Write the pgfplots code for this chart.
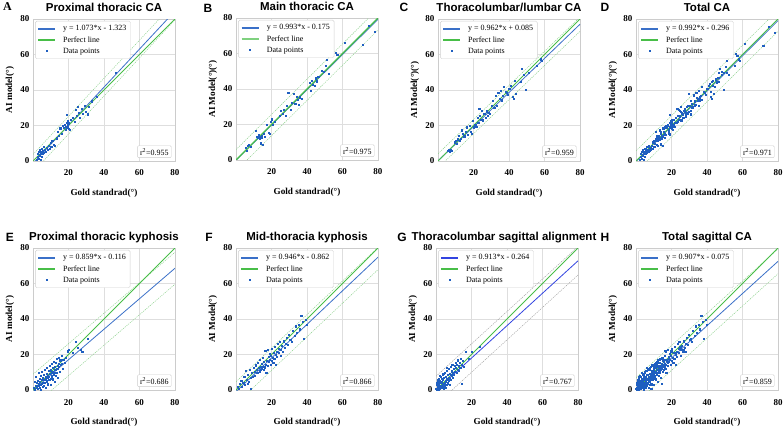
\documentclass[border=0pt]{standalone}
\usepackage{fontspec}
\setmainfont{Liberation Serif}
\setsansfont{Liberation Sans}
\usepackage{pgfplots}
\usepackage{pgfplotstable}
\pgfplotsset{compat=1.18}

\definecolor{regblue}{HTML}{3A70C8}
\definecolor{perfgreen}{HTML}{48BE48}
\definecolor{ptblue}{HTML}{1F5FC0}
\definecolor{dashgreen}{HTML}{8ACF8A}
\definecolor{dashgrey}{HTML}{A0A0A0}
\definecolor{gblue}{HTML}{3344E0}

\pgfplotstableread{
x y
2.1 0.5
2.6 2.2
2.9 3.8
3.2 1.1
3.4 4.9
3.7 2.7
3.9 6.2
4.1 3.4
4.3 0.4
4.5 5.1
4.8 4.2
5.0 2.3
5.2 6.6
5.5 3.9
5.8 5.4
6.1 4.6
6.4 7.7
6.8 6.0
7.3 5.2
8.1 7.1
8.6 6.3
9.1 8.4
9.5 7.0
9.9 10.2
10.4 8.1
11.0 11.4
11.6 9.0
12.3 8.2
13.4 12.7
14.2 16.4
14.8 14.1
15.5 18.3
16.1 15.3
16.8 19.9
17.6 18.6
18.2 20.4
18.6 17.7
18.9 19.4
19.1 21.2
19.3 18.9
19.5 20.1
19.7 22.4
19.9 19.3
20.1 20.8
20.3 18.2
20.5 21.5
19.4 26.1
20.9 17.4
21.4 23.3
22.7 24.2
23.5 22.1
24.2 28.6
24.8 25.3
25.5 30.5
25.9 27.2
26.7 24.0
27.4 29.4
28.3 26.4
29.1 31.0
30.0 27.7
31.1 26.2
31.8 30.3
33.0 33.5
36.3 36.2
47.0 49.5
}\tA

\pgfplotstableread{
x y
5.6 6.9
6.3 5.2
6.9 7.8
7.4 8.6
8.2 7.2
11.3 16.1
12.0 13.2
12.6 12.4
13.1 13.8
13.5 11.9
13.8 12.9
14.2 9.3
14.5 13.5
14.8 12.6
15.1 8.6
15.6 14.4
16.4 13.1
17.7 19.8
18.5 15.2
19.3 14.8
19.6 21.2
20.4 22.8
21.0 19.5
22.1 21.3
24.8 24.9
25.5 27.6
26.3 26.1
27.2 28.4
28.0 24.6
28.9 30.2
29.6 37.6
30.8 28.3
31.5 32.1
32.7 37.4
33.5 31.4
34.2 35.6
34.9 33.8
35.6 31.0
36.3 35.2
37.1 34.4
41.5 43.3
42.2 39.1
43.0 44.6
43.6 42.5
44.3 41.8
44.9 45.9
45.7 44.2
46.5 46.8
48.6 50.3
49.4 49.8
50.5 53.1
51.2 56.4
52.3 48.4
56.5 60.2
57.2 59.1
61.4 65.9
71.8 64.8
74.9 75.3
78.2 72.1
}\tB

\pgfplotstableread{
x y
5.8 5.4
6.4 6.3
6.9 4.9
7.3 6.1
8.1 5.8
9.5 10.4
10.2 11.2
10.8 9.6
11.4 12.1
12.0 14.3
12.6 11.3
13.1 12.5
13.6 17.2
14.2 15.1
14.9 13.8
15.6 16.4
16.3 18.9
17.0 14.6
17.8 19.8
18.5 16.2
19.2 15.3
19.8 22.6
20.5 18.9
21.1 20.4
21.7 19.2
22.3 24.0
22.8 21.5
23.4 29.4
23.9 25.6
24.5 23.1
25.0 28.3
25.6 22.8
26.2 26.7
26.8 24.2
27.5 27.9
28.1 25.6
28.7 27.1
29.4 26.3
30.3 30.8
31.0 33.9
31.8 29.7
32.6 36.8
33.3 31.2
34.1 38.4
34.8 35.0
35.5 39.6
36.1 34.1
36.8 36.5
37.4 41.9
38.2 39.1
38.9 38.2
39.6 37.0
40.3 40.4
41.2 42.3
42.1 36.2
42.6 35.1
43.4 45.2
44.0 37.8
46.8 44.6
47.5 51.8
48.2 48.7
49.6 40.1
51.3 49.5
55.7 53.3
57.8 57.2
58.5 56.4
}\tC

\pgfplotstableread{
x y
0.8 1.2
1.1 4.6
1.3 0.3
1.6 2.5
1.9 7.1
2.2 1.4
2.4 3.8
2.7 0.6
2.9 5.2
3.1 2.1
3.3 9.4
3.5 3.3
3.7 1.0
3.9 6.0
4.1 4.4
4.3 0.2
4.5 7.8
4.7 2.9
4.9 5.5
5.1 3.6
5.3 10.3
5.5 1.7
5.7 6.7
5.9 4.1
6.1 8.5
6.3 2.4
6.5 5.8
6.7 11.2
6.9 3.9
7.1 7.3
7.3 6.0
7.5 0.9
7.7 9.1
7.9 4.8
8.1 12.4
8.3 6.6
8.5 8.0
8.7 3.1
8.9 10.5
9.1 7.2
9.3 5.4
9.5 13.6
9.7 8.9
9.9 6.3
10.1 11.0
10.3 2.8
10.5 9.7
10.7 7.6
10.9 14.8
11.1 10.2
11.3 5.9
11.5 12.3
11.7 8.4
11.9 16.0
12.1 9.8
12.3 4.6
12.5 13.2
12.7 11.1
12.9 7.9
13.1 15.4
13.3 12.0
13.5 9.5
13.7 17.3
13.9 13.7
14.1 6.8
14.3 11.6
14.5 14.9
14.7 18.2
14.9 12.8
15.2 10.1
15.5 16.6
15.8 13.9
16.1 19.0
16.4 14.6
16.8 11.9
17.2 16.9
17.8 15.2
18.5 17.8
19.6 21.7
20.4 22.3
22.6 20.8
24.3 27.1
25.1 23.6
26.8 22.4
27.9 21.6
31.2 28.9
}\tE

\pgfplotstableread{
x y
1.2 1.5
1.8 0.4
2.4 3.6
3.1 5.2
3.6 1.8
4.2 4.1
4.8 7.3
5.3 2.9
5.7 10.8
6.1 5.6
6.6 3.4
7.0 8.2
7.4 4.7
7.9 11.3
8.3 6.9
8.7 0.8
9.2 9.5
9.6 7.4
10.1 12.6
10.5 10.2
10.9 8.1
11.3 13.8
11.7 11.4
12.1 9.6
12.5 15.1
12.9 12.3
13.3 10.4
13.6 16.7
13.9 13.2
14.2 11.5
14.5 14.6
14.8 12.1
15.1 17.9
15.4 13.0
15.7 11.2
16.0 15.8
16.3 12.7
16.6 21.8
16.9 14.3
17.2 9.8
17.5 16.4
17.8 22.4
18.1 13.6
18.4 18.7
18.7 15.9
19.0 20.3
19.3 17.1
19.6 14.2
19.9 19.4
20.2 16.5
20.5 22.9
20.8 18.2
21.1 15.3
21.4 21.0
21.7 17.6
22.0 24.1
22.3 19.8
22.6 13.9
22.9 21.5
23.2 18.8
23.6 25.9
24.0 20.7
24.4 23.3
24.8 26.8
25.2 19.4
25.6 22.6
26.0 24.8
26.5 21.2
27.0 27.3
27.5 23.9
28.1 26.1
28.7 29.4
29.3 25.6
30.0 31.2
30.7 28.3
31.4 27.1
32.2 33.4
33.0 30.6
33.8 35.8
34.5 31.9
35.3 36.4
36.1 34.1
36.9 41.7
37.6 38.2
38.4 28.5
39.2 39.5
40.1 36.8
}\tF

\pgfplotstableread{
x y
0.3 0.8
0.5 2.6
0.7 0.2
0.9 1.5
1.1 4.2
1.2 0.6
1.4 2.9
1.6 1.1
1.8 6.3
1.9 3.4
2.1 0.4
2.3 2.0
2.5 5.1
2.6 1.3
2.8 3.7
3.0 7.4
3.1 0.9
3.3 2.4
3.5 4.6
3.6 1.7
3.8 8.5
4.0 3.2
4.1 5.8
4.3 2.1
4.5 0.5
4.7 6.9
4.9 3.9
5.1 2.6
5.3 9.6
5.5 4.8
5.7 7.2
5.9 3.0
6.1 5.5
6.3 10.7
6.5 6.2
6.7 4.1
6.9 8.3
7.1 5.3
7.3 11.8
7.5 7.0
7.7 2.7
7.9 9.1
8.1 6.4
8.3 12.9
8.5 8.2
8.7 5.6
8.9 10.4
9.1 7.8
9.3 14.1
9.5 9.3
9.7 6.9
9.9 11.6
10.2 8.7
10.5 13.3
10.8 10.1
11.1 15.4
11.4 12.2
11.7 9.4
12.0 14.0
12.3 11.3
12.6 16.6
12.9 13.5
13.2 10.5
13.5 15.2
13.8 12.6
14.1 17.4
14.5 3.2
14.8 14.3
15.2 16.1
15.6 13.2
16.8 21.2
18.4 17.5
20.2 21.2
24.9 24.0
0.4 3.8
1.0 5.6
1.5 0.1
2.0 7.9
2.4 4.4
2.9 1.9
3.4 6.0
4.2 9.1
4.8 1.5
5.6 0.9
6.0 12.4
7.0 3.3
}\tG

\pgfplotsset{
  panel/.style={
    width=142pt, height=142pt, scale only axis,
    anchor=north west,
    xmin=0, xmax=80, ymin=0, ymax=80,
    xtick={20,40,60,80}, ytick={0,20,40,60,80},
    grid=major,
    major grid style={draw=black!13, line width=0.6pt},
    axis line style={draw=black!20, line width=0.6pt},
    major tick length=0pt,
    /pgf/number format/assume math mode=true,
    tick label style={font=\bfseries\fontsize{9}{10}\selectfont},
    xticklabel style={anchor=base, yshift=-15pt},
    label style={font=\bfseries\fontsize{9.2}{10}\selectfont},
    xlabel={Gold standrad(°)},
    xlabel style={at={(axis description cs:0.5,-0.245)}, anchor=base},
    ylabel style={at={(axis description cs:-0.162,0.5)}, anchor=center},
    every axis title shift=0pt,
    title style={font=\sffamily\bfseries\fontsize{11.5}{13}\selectfont, anchor=base, yshift=7.5pt},
    legend style={at={(rel axis cs:0.015,0.986)}, anchor=north west,
      draw=black!18, fill=white, rounded corners=1.5pt,
      font=\fontsize{8}{9}\selectfont, inner sep=2.2pt, row sep=0.2pt, column sep=5pt},
    legend cell align=left,
  },
}

\begin{document}
\begin{tikzpicture}
\useasboundingbox (0pt,0pt) rectangle (783pt,-429pt);

% ---------- A ----------
\begin{axis}[panel, at={(33pt,-19pt)}, title={Proximal thoracic CA}, ylabel={AI model(°)}]
\addplot[color=dashgreen, line width=0.45pt, dash pattern=on 1.2pt off 1pt, forget plot] coordinates {(0,3.677) (80,89.517)};
\addplot[color=dashgreen, line width=0.45pt, dash pattern=on 1.2pt off 1pt, forget plot] coordinates {(0,-6.323) (80,79.517)};
\addplot[color=regblue, line width=0.8pt, forget plot] coordinates {(0,-1.323) (80,84.517)};
\addplot[color=perfgreen, line width=0.8pt, forget plot] coordinates {(0,0) (80,80)};
\addplot[only marks, mark=square*, mark size=0.55pt, color=ptblue, mark options={line width=0pt}, forget plot] table {\tA};
\addlegendimage{color=regblue, line width=1.5pt}
\addlegendentry{y = 1.073*x - 1.323}
\addlegendimage{color=perfgreen, line width=1.5pt}
\addlegendentry{Perfect line}
\addlegendimage{only marks, mark=square*, mark size=0.6pt, color=ptblue, mark options={line width=0pt}}
\addlegendentry{Data points}
\node[draw=black!20, fill=white, rounded corners=1pt, font=\fontsize{8}{9}\selectfont, anchor=south east, inner sep=2.5pt] at (rel axis cs:0.975,0.022) {r\textsuperscript{2}=0.955};
\end{axis}

% ---------- B ----------
\begin{axis}[panel, at={(236pt,-18pt)}, title={Main thoracic CA}, ylabel={AI Model(°)(°)}]
\addplot[color=dashgreen, line width=0.45pt, dash pattern=on 1.2pt off 1pt, forget plot] coordinates {(0,5.825) (80,85.265)};
\addplot[color=dashgreen, line width=0.45pt, dash pattern=on 1.2pt off 1pt, forget plot] coordinates {(0,-6.175) (80,73.265)};
\addplot[color=regblue, line width=0.8pt, forget plot] coordinates {(0,-0.175) (80,79.265)};
\addplot[color=perfgreen, line width=1.1pt, forget plot] coordinates {(0,0) (80,80)};
\addplot[only marks, mark=square*, mark size=0.55pt, color=ptblue, mark options={line width=0pt}, forget plot] table {\tB};
\addlegendimage{color=regblue, line width=1.5pt}
\addlegendentry{y = 0.993*x - 0.175}
\addlegendimage{color=perfgreen!70, line width=2.2pt}
\addlegendentry{Perfect line}
\addlegendimage{only marks, mark=square*, mark size=0.6pt, color=ptblue, mark options={line width=0pt}}
\addlegendentry{Data points}
\node[draw=black!20, fill=white, rounded corners=1pt, font=\fontsize{8}{9}\selectfont, anchor=south east, inner sep=2.5pt] at (rel axis cs:0.975,0.022) {r\textsuperscript{2}=0.975};
\end{axis}

% ---------- C ----------
\begin{axis}[panel, at={(438pt,-19pt)}, title={Thoracolumbar/lumbar CA}, ylabel={AI Model(°)(°)}]
\addplot[color=dashgreen, line width=0.45pt, dash pattern=on 1.2pt off 1pt, forget plot] coordinates {(0,4.085) (80,81.045)};
\addplot[color=dashgreen, line width=0.45pt, dash pattern=on 1.2pt off 1pt, forget plot] coordinates {(0,-3.915) (80,73.045)};
\addplot[color=regblue, line width=0.8pt, forget plot] coordinates {(0,0.085) (80,77.045)};
\addplot[color=perfgreen, line width=0.8pt, forget plot] coordinates {(0,0) (80,80)};
\addplot[only marks, mark=square*, mark size=0.55pt, color=ptblue, mark options={line width=0pt}, forget plot] table {\tC};
\addlegendimage{color=regblue, line width=1.5pt}
\addlegendentry{y = 0.962*x + 0.085}
\addlegendimage{color=perfgreen, line width=1.5pt}
\addlegendentry{Perfect line}
\addlegendimage{only marks, mark=square*, mark size=0.6pt, color=ptblue, mark options={line width=0pt}}
\addlegendentry{Data points}
\node[draw=black!20, fill=white, rounded corners=1pt, font=\fontsize{8}{9}\selectfont, anchor=south east, inner sep=2.5pt] at (rel axis cs:0.975,0.022) {r\textsuperscript{2}=0.959};
\end{axis}

% ---------- D ----------
\begin{axis}[panel, at={(636pt,-19pt)}, title={Total CA}, ylabel={AI Model(°)(°)}]
\addplot[color=dashgreen, line width=0.45pt, dash pattern=on 1.2pt off 1pt, forget plot] coordinates {(0,5.704) (80,85.064)};
\addplot[color=dashgreen, line width=0.45pt, dash pattern=on 1.2pt off 1pt, forget plot] coordinates {(0,-6.296) (80,73.064)};
\addplot[color=regblue, line width=0.8pt, forget plot] coordinates {(0,-0.296) (80,79.064)};
\addplot[color=perfgreen, line width=0.8pt, forget plot] coordinates {(0,0) (80,80)};
\addplot[only marks, mark=square*, mark size=0.55pt, color=ptblue, mark options={line width=0pt}, forget plot] table {\tA};
\addplot[only marks, mark=square*, mark size=0.55pt, color=ptblue, mark options={line width=0pt}, forget plot] table {\tB};
\addplot[only marks, mark=square*, mark size=0.55pt, color=ptblue, mark options={line width=0pt}, forget plot] table {\tC};
\addlegendimage{color=regblue, line width=1.5pt}
\addlegendentry{y = 0.992*x - 0.296}
\addlegendimage{color=perfgreen, line width=1.5pt}
\addlegendentry{Perfect line}
\addlegendimage{only marks, mark=square*, mark size=0.6pt, color=ptblue, mark options={line width=0pt}}
\addlegendentry{Data points}
\node[draw=black!20, fill=white, rounded corners=1pt, font=\fontsize{8}{9}\selectfont, anchor=south east, inner sep=2.5pt] at (rel axis cs:0.975,0.022) {r\textsuperscript{2}=0.971};
\end{axis}

% ---------- E ----------
\begin{axis}[panel, at={(33pt,-248pt)}, title={Proximal thoracic kyphosis}, ylabel={AI model(°)}]
\addplot[color=dashgreen, line width=0.45pt, dash pattern=on 1.2pt off 1pt, forget plot] coordinates {(0,8.884) (80,77.604)};
\addplot[color=dashgreen, line width=0.45pt, dash pattern=on 1.2pt off 1pt, forget plot] coordinates {(0,-9.116) (80,59.604)};
\addplot[color=regblue, line width=0.8pt, forget plot] coordinates {(0,-0.116) (80,68.604)};
\addplot[color=perfgreen, line width=0.8pt, forget plot] coordinates {(0,0) (80,80)};
\addplot[only marks, mark=square*, mark size=0.55pt, color=ptblue, mark options={line width=0pt}, forget plot] table {\tE};
\addlegendimage{color=regblue, line width=1.5pt}
\addlegendentry{y = 0.859*x - 0.116}
\addlegendimage{color=perfgreen, line width=1.5pt}
\addlegendentry{Perfect line}
\addlegendimage{only marks, mark=square*, mark size=0.6pt, color=ptblue, mark options={line width=0pt}}
\addlegendentry{Data points}
\node[draw=black!20, fill=white, rounded corners=1pt, font=\fontsize{8}{9}\selectfont, anchor=south east, inner sep=2.5pt] at (rel axis cs:0.975,0.022) {r\textsuperscript{2}=0.686};
\end{axis}

% ---------- F ----------
\begin{axis}[panel, at={(236pt,-248pt)}, title={Mid-thoracia kyphosis}, ylabel={AI Model(°)}]
\addplot[color=dashgreen, line width=0.45pt, dash pattern=on 1.2pt off 1pt, forget plot] coordinates {(0,4.638) (80,80.318)};
\addplot[color=dashgreen, line width=0.45pt, dash pattern=on 1.2pt off 1pt, forget plot] coordinates {(0,-7.862) (80,67.818)};
\addplot[color=regblue, line width=0.8pt, forget plot] coordinates {(0,-0.862) (80,74.818)};
\addplot[color=perfgreen, line width=0.8pt, forget plot] coordinates {(0,0) (80,80)};
\addplot[only marks, mark=square*, mark size=0.55pt, color=ptblue, mark options={line width=0pt}, forget plot] table {\tF};
\addlegendimage{color=regblue, line width=1.5pt}
\addlegendentry{y = 0.946*x - 0.862}
\addlegendimage{color=perfgreen, line width=1.5pt}
\addlegendentry{Perfect line}
\addlegendimage{only marks, mark=square*, mark size=0.6pt, color=ptblue, mark options={line width=0pt}}
\addlegendentry{Data points}
\node[draw=black!20, fill=white, rounded corners=1pt, font=\fontsize{8}{9}\selectfont, anchor=south east, inner sep=2.5pt] at (rel axis cs:0.975,0.022) {r\textsuperscript{2}=0.866};
\end{axis}

% ---------- G ----------
\begin{axis}[panel, at={(436pt,-248pt)}, title={Thoracolumbar sagittal alignment},
  title style={xshift=-3pt}, ylabel={AI Model(°)}]
\addplot[color=dashgrey, line width=0.45pt, dash pattern=on 1.2pt off 1pt, forget plot] coordinates {(0,7.736) (80,80.776)};
\addplot[color=dashgrey, line width=0.45pt, dash pattern=on 1.2pt off 1pt, forget plot] coordinates {(0,-8.264) (80,64.776)};
\addplot[color=gblue, line width=0.8pt, forget plot] coordinates {(0,-0.264) (80,72.776)};
\addplot[color=perfgreen, line width=0.8pt, forget plot] coordinates {(0,0) (80,80)};
\addplot[only marks, mark=square*, mark size=0.55pt, color=ptblue, mark options={line width=0pt}, forget plot] table {\tG};
\addlegendimage{color=gblue, line width=1.5pt}
\addlegendentry{y = 0.913*x - 0.264}
\addlegendimage{color=perfgreen, line width=1.5pt}
\addlegendentry{Perfect line}
\addlegendimage{only marks, mark=square*, mark size=0.6pt, color=ptblue, mark options={line width=0pt}}
\addlegendentry{Data points}
\node[draw=black!20, fill=white, rounded corners=1pt, font=\fontsize{8}{9}\selectfont, anchor=south east, inner sep=2.5pt] at (rel axis cs:0.975,0.022) {r\textsuperscript{2}=0.767};
\end{axis}

% ---------- H ----------
\begin{axis}[panel, at={(636pt,-248pt)}, title={Total sagittal CA}, ylabel={AI Model(°)}]
\addplot[color=dashgreen, line width=0.45pt, dash pattern=on 1.2pt off 1pt, forget plot] coordinates {(0,6.925) (80,79.485)};
\addplot[color=dashgreen, line width=0.45pt, dash pattern=on 1.2pt off 1pt, forget plot] coordinates {(0,-7.075) (80,65.485)};
\addplot[color=regblue, line width=0.8pt, forget plot] coordinates {(0,-0.075) (80,72.485)};
\addplot[color=perfgreen, line width=0.8pt, forget plot] coordinates {(0,0) (80,80)};
\addplot[only marks, mark=square*, mark size=0.55pt, color=ptblue, mark options={line width=0pt}, forget plot] table {\tE};
\addplot[only marks, mark=square*, mark size=0.55pt, color=ptblue, mark options={line width=0pt}, forget plot] table {\tF};
\addplot[only marks, mark=square*, mark size=0.55pt, color=ptblue, mark options={line width=0pt}, forget plot] table {\tG};
\addlegendimage{color=regblue, line width=1.5pt}
\addlegendentry{y = 0.907*x - 0.075}
\addlegendimage{color=perfgreen, line width=1.5pt}
\addlegendentry{Perfect line}
\addlegendimage{only marks, mark=square*, mark size=0.6pt, color=ptblue, mark options={line width=0pt}}
\addlegendentry{Data points}
\node[draw=black!20, fill=white, rounded corners=1pt, font=\fontsize{8}{9}\selectfont, anchor=south east, inner sep=2.5pt] at (rel axis cs:0.975,0.022) {r\textsuperscript{2}=0.859};
\end{axis}

% panel letters
\node[font=\rmfamily\bfseries\fontsize{12}{12}\selectfont] at (7.5pt,-7pt) {A};
\node[font=\sffamily\bfseries\fontsize{12}{12}\selectfont] at (208pt,-8pt) {B};
\node[font=\sffamily\bfseries\fontsize{12}{12}\selectfont] at (404pt,-7pt) {C};
\node[font=\sffamily\bfseries\fontsize{12}{12}\selectfont] at (605pt,-7.5pt) {D};
\node[font=\sffamily\bfseries\fontsize{12}{12}\selectfont] at (10pt,-237pt) {E};
\node[font=\sffamily\bfseries\fontsize{12}{12}\selectfont] at (209pt,-237pt) {F};
\node[font=\sffamily\bfseries\fontsize{12}{12}\selectfont] at (402pt,-237pt) {G};
\node[font=\sffamily\bfseries\fontsize{12}{12}\selectfont] at (605pt,-237pt) {H};
\end{tikzpicture}
\end{document}
